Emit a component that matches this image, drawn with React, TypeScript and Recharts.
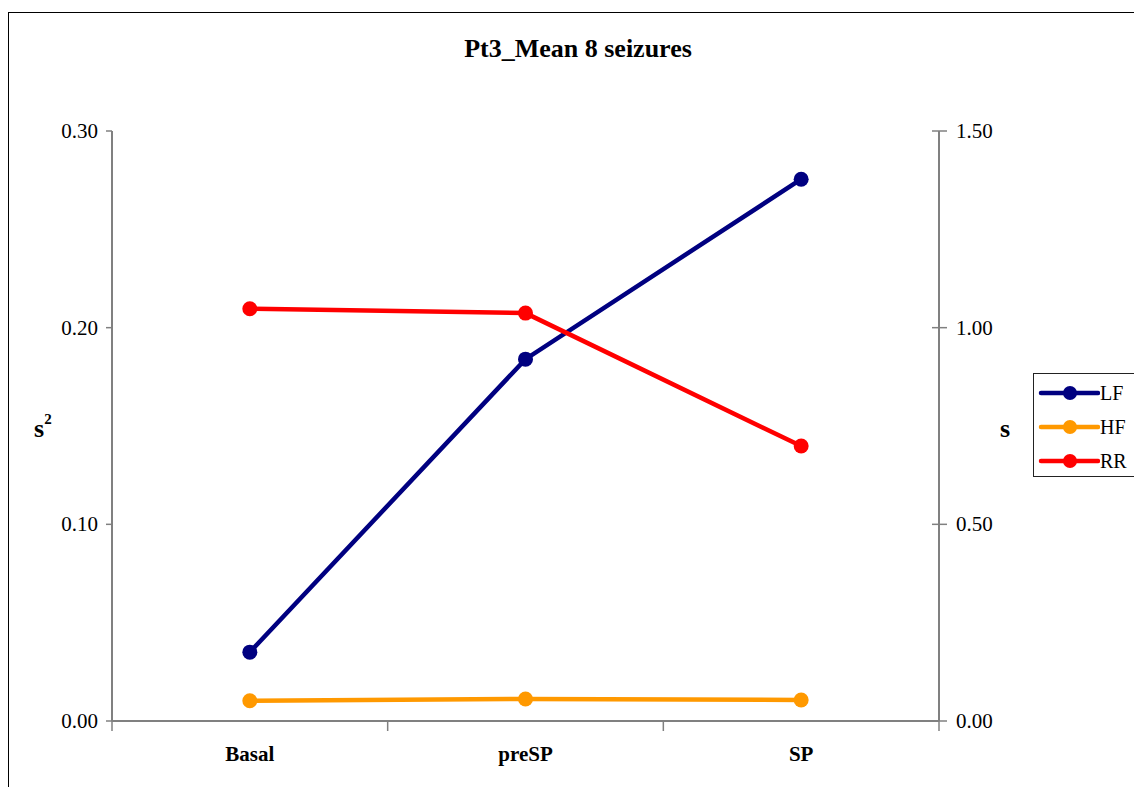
import React from 'react';
import { LineChart, Line, XAxis, YAxis, Legend, Label } from 'recharts';

const categories = ['Basal', 'preSP', 'SP'];
const seriesNames = ['LF', 'HF', 'RR'];
const lfValues = [0.035, 0.184, 0.2755];
const hfValues = [0.0103, 0.0112, 0.0107];
const rrValues = [1.048, 1.037, 0.699];
const leftTicks = [0, 0.1, 0.2, 0.3];
const rightTicks = [0, 0.5, 1.0, 1.5];

const data = categories.map((c, i) => ({ cat: c, LF: lfValues[i], HF: hfValues[i], RR: rrValues[i] }));

const FONT = 'Liberation Serif, Tinos, Times New Roman, DejaVu Serif, serif';
const AXIS = '#808080';
const COLORS: Record<string, string> = { LF: '#000080', HF: '#FF9900', RR: '#FF0000' };

const W = 1134;
const H = 787;
const LEFT_W = 112;
const RIGHT_W = 195;
const PLOT_W = W - LEFT_W - RIGHT_W;
const BW = PLOT_W / categories.length;

const LeftTick = (props: any) => {
  const { x, y, payload } = props;
  return (
    <g>
      <line x1={x - 6} x2={x} y1={y} y2={y} stroke={AXIS} strokeWidth={1.5} />
      <text x={x - 14} y={y + 7} textAnchor="end" style={{ fontFamily: FONT }} fontSize={21} fill="#000">
        {Number(payload.value).toFixed(2)}
      </text>
    </g>
  );
};

const RightTick = (props: any) => {
  const { x, y, payload } = props;
  return (
    <g>
      <line x1={x - 7} x2={x + 8} y1={y} y2={y} stroke={AXIS} strokeWidth={1.5} />
      <text x={x + 17} y={y + 7} textAnchor="start" style={{ fontFamily: FONT }} fontSize={21} fill="#000">
        {Number(payload.value).toFixed(2)}
      </text>
    </g>
  );
};

const BottomTick = (props: any) => {
  const { x, y, payload, index } = props;
  const last = index === categories.length - 1;
  return (
    <g>
      <line x1={x - BW / 2} x2={x - BW / 2} y1={y} y2={y + 10} stroke={AXIS} strokeWidth={1.5} />
      {last && <line x1={x + BW / 2} x2={x + BW / 2} y1={y} y2={y + 10} stroke={AXIS} strokeWidth={1.5} />}
      <text x={x} y={y + 40} textAnchor="middle" style={{ fontFamily: FONT }} fontSize={21} fontWeight="bold" fill="#000">
        {payload.value}
      </text>
    </g>
  );
};

const LegendContent = () => {
  return (
    <div
      style={{
        border: '1px solid #222',
        width: 120,
        height: 104,
        boxSizing: 'border-box',
        background: '#fff',
        paddingTop: 2,
      }}
    >
      {seriesNames.map((name) => (
        <div key={name} style={{ display: 'flex', alignItems: 'center', height: 34 }}>
          <svg width={66} height={20} style={{ display: 'block' }}>
            <line x1={7} x2={64} y1={10} y2={10} stroke={COLORS[name]} strokeWidth={4.5} strokeLinecap="round" />
            <circle cx={36} cy={10} r={7} fill={COLORS[name]} />
          </svg>
          <span style={{ fontFamily: FONT, fontSize: 20, color: '#000', lineHeight: '20px' }}>{name}</span>
        </div>
      ))}
    </div>
  );
};

export default function App() {
  return (
    <div style={{ position: 'fixed', left: 0, top: 0, width: W, height: H, overflow: 'hidden', background: '#fff' }}>
      <div
        style={{
          position: 'absolute',
          left: 8,
          top: 12,
          width: 1160,
          height: 800,
          border: '1.5px solid #000',
          boxSizing: 'border-box',
        }}
      />
      <div
        style={{
          position: 'absolute',
          left: 378,
          top: 36,
          width: 400,
          textAlign: 'center',
          fontFamily: FONT,
          fontWeight: 'bold',
          fontSize: 26,
          lineHeight: '26px',
          color: '#000',
          whiteSpace: 'nowrap',
        }}
      >
        Pt3_Mean 8 seizures
      </div>
      <div style={{ position: 'absolute', left: 0, top: 0 }}>
        <LineChart width={W} height={H} data={data} margin={{ top: 131, right: 0, bottom: 0, left: 0 }}>
          <XAxis
            dataKey="cat"
            height={66}
            padding={{ left: BW / 2, right: BW / 2 }}
            axisLine={{ stroke: AXIS, strokeWidth: 2 }}
            tickLine={false}
            tickSize={0}
            tickMargin={0}
            tick={<BottomTick />}
            interval={0}
          />
          <YAxis
            yAxisId="left"
            orientation="left"
            width={LEFT_W}
            domain={[0, 0.3]}
            ticks={leftTicks}
            axisLine={{ stroke: AXIS, strokeWidth: 2 }}
            tickLine={false}
            tickSize={0}
            tickMargin={0}
            tick={<LeftTick />}
            interval={0}
          >
            <Label
              content={(p: any) => {
                const vb = p.viewBox || { x: 0, y: 131, width: 112, height: 590 };
                const cy = vb.y + vb.height / 2;
                return (
                  <text x={vb.x + 34} y={cy + 11} style={{ fontFamily: FONT }} fontWeight="bold" fontSize={26} fill="#000">
                    s
                    <tspan fontSize={15} dy={-13}>2</tspan>
                  </text>
                );
              }}
            />
          </YAxis>
          <YAxis
            yAxisId="right"
            orientation="right"
            width={RIGHT_W}
            domain={[0, 1.5]}
            ticks={rightTicks}
            axisLine={{ stroke: AXIS, strokeWidth: 2 }}
            tickLine={false}
            tickSize={0}
            tickMargin={0}
            tick={<RightTick />}
            interval={0}
          >
            <Label
              content={(p: any) => {
                const vb = p.viewBox || { x: 939, y: 131, width: 195, height: 590 };
                const cy = vb.y + vb.height / 2;
                return (
                  <text x={vb.x + 61} y={cy + 11} style={{ fontFamily: FONT }} fontWeight="bold" fontSize={26} fill="#000">
                    s
                  </text>
                );
              }}
            />
          </YAxis>
          <Legend
            layout="vertical"
            align="center"
            verticalAlign="middle"
            content={<LegendContent />}
            wrapperStyle={{ left: 1033, top: 373, width: 120, height: 104 }}
          />
          {seriesNames.map((k) => (
            <Line
              key={k}
              dataKey={k}
              name={k}
              yAxisId={k === 'RR' ? 'right' : 'left'}
              stroke={COLORS[k]}
              strokeWidth={4.5}
              dot={{ r: 7.5, fill: COLORS[k], stroke: COLORS[k], strokeWidth: 0 }}
              activeDot={false}
              isAnimationActive={false}
            />
          ))}
        </LineChart>
      </div>
    </div>
  );
}
